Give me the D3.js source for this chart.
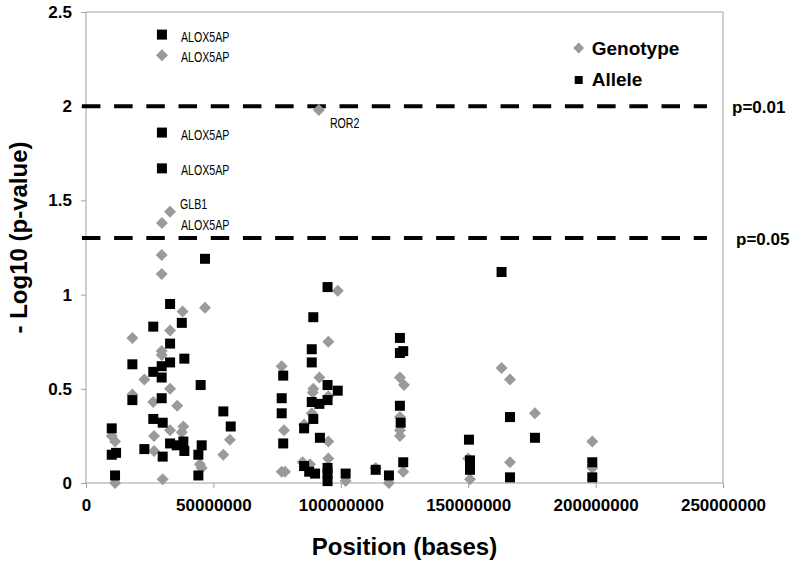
<!DOCTYPE html>
<html>
<head>
<meta charset="utf-8">
<script src="https://cdn.jsdelivr.net/npm/d3@7"></script>
<style>
  body { margin: 0; background: #fff; }
  text { font-family: 'Liberation Sans', Arial, sans-serif; }
  .gene { font-size: 14px; }
</style>
</head>
<body>
<div id="vis"></div>
<script>
// Genotype test: [position (Mb), -log10 p]
var genotype = [
  [29.8, 2.27], [91.4, 1.98], [33.0, 1.44], [29.8, 1.38],
  [29.7, 1.21], [29.7, 1.11], [37.9, 0.91], [46.7, 0.93], [18.2, 0.77], [33.0, 0.81],
  [29.7, 0.70], [29.7, 0.68], [22.9, 0.55], [33.0, 0.50], [18.2, 0.47], [26.4, 0.43],
  [35.8, 0.41], [10.1, 0.25], [11.4, 0.22], [26.7, 0.25], [33.0, 0.28], [38.2, 0.30],
  [37.6, 0.27], [26.7, 0.17], [56.5, 0.23], [53.9, 0.15], [45.4, 0.08], [30.1, 0.02],
  [11.4, 0.00], [44.7, 0.10],
  [76.8, 0.62], [98.8, 1.02], [95.1, 0.75], [91.6, 0.56], [89.2, 0.50], [89.0, 0.48],
  [95.1, 0.46], [88.6, 0.37], [77.7, 0.28], [85.6, 0.31], [95.1, 0.22], [95.1, 0.13],
  [76.8, 0.06], [78.1, 0.06], [85.0, 0.11], [87.9, 0.10], [101.9, 0.01], [113.7, 0.08],
  [118.9, 0.00], [123.2, 0.56], [124.8, 0.52], [123.2, 0.35], [123.2, 0.28], [123.2, 0.25],
  [124.5, 0.06], [150.0, 0.13], [150.7, 0.02], [163.1, 0.61], [166.4, 0.55], [176.2, 0.37],
  [166.4, 0.11], [198.7, 0.22], [198.7, 0.08]
];

// Allele test: [position (Mb), -log10 p]
var allele = [
  [29.8, 2.38], [29.8, 1.86], [29.8, 1.67],
  [46.7, 1.19], [33.0, 0.95], [37.6, 0.85], [26.4, 0.83], [33.0, 0.74], [38.6, 0.66],
  [18.2, 0.63], [33.0, 0.64], [29.7, 0.62], [26.4, 0.59], [29.7, 0.56], [45.0, 0.52],
  [29.7, 0.45], [18.2, 0.44], [26.4, 0.34], [30.1, 0.32], [53.9, 0.38], [56.8, 0.30],
  [10.1, 0.29], [22.9, 0.18], [33.0, 0.21], [35.6, 0.20], [38.2, 0.22], [38.6, 0.17],
  [30.1, 0.14], [45.4, 0.20], [44.1, 0.15], [10.1, 0.15], [11.8, 0.16], [11.4, 0.04],
  [44.1, 0.04],
  [94.8, 1.04], [89.2, 0.88], [88.6, 0.71], [88.6, 0.64], [77.4, 0.57], [94.8, 0.52],
  [98.8, 0.49], [76.8, 0.45], [88.6, 0.43], [91.6, 0.42], [94.8, 0.44], [76.8, 0.37],
  [89.2, 0.34], [85.6, 0.29], [91.8, 0.24], [77.4, 0.21], [85.6, 0.09], [87.6, 0.06],
  [89.9, 0.05], [94.8, 0.08], [94.8, 0.05], [94.8, 0.01], [101.9, 0.05], [113.7, 0.07],
  [118.9, 0.04], [123.2, 0.77], [123.2, 0.69], [124.5, 0.70], [123.2, 0.41], [123.5, 0.32],
  [124.5, 0.11], [150.3, 0.23], [150.7, 0.12], [150.7, 0.07], [163.1, 1.12], [166.4, 0.35],
  [176.2, 0.24], [166.4, 0.03], [198.7, 0.11], [198.7, 0.03]
];

// gene labels: series, index of point in that series, name
var geneLabels = [
  ['allele', 0, 'ALOX5AP'],
  ['genotype', 0, 'ALOX5AP'],
  ['genotype', 1, 'ROR2'],
  ['allele', 1, 'ALOX5AP'],
  ['allele', 2, 'ALOX5AP'],
  ['genotype', 2, 'GLB1'],
  ['genotype', 3, 'ALOX5AP']
];

var thresholds = [0.01, 0.05];
var xTicks = [0, 50000000, 100000000, 150000000, 200000000, 250000000];
var yTicks = [0, 0.5, 1, 1.5, 2, 2.5];

var width = 800;
var height = 568;
var margin = { top: 12, right: 77, bottom: 85, left: 86 };
var innerW = width - margin.left - margin.right;
var innerH = height - margin.top - margin.bottom;

var grey = '#9a9a9a';
var axisGrey = '#a0a0a0';

var x = d3.scaleLinear().domain([0, 250000000]).range([0, innerW]);
var y = d3.scaleLinear().domain([0, 2.5]).range([innerH, 0]);

var svg = d3.select('#vis').append('svg')
  .attr('width', width)
  .attr('height', height);

var g = svg.append('g')
  .attr('transform', 'translate(' + margin.left + ',' + margin.top + ')');

// frame: top and right edges
g.append('path')
  .attr('d', 'M0,0H' + innerW + 'V' + innerH)
  .attr('fill', 'none')
  .attr('stroke', axisGrey)
  .attr('stroke-width', 1);

// axes
var xAxis = g.append('g')
  .attr('transform', 'translate(0,' + innerH + ')')
  .call(d3.axisBottom(x).tickValues(xTicks).tickSize(5).tickPadding(11)
    .tickFormat(d3.format('d')));
var yAxis = g.append('g')
  .call(d3.axisLeft(y).tickValues(yTicks).tickSize(5).tickPadding(9)
    .tickFormat(function (d) { return String(d); }));

[xAxis, yAxis].forEach(function (a) {
  a.select('.domain').attr('stroke', axisGrey);
  a.selectAll('.tick line').attr('stroke', axisGrey);
  a.selectAll('.tick text')
    .attr('fill', '#000')
    .style('font-size', '17px')
    .style('font-weight', 'bold')
    .style('font-family', "'Liberation Sans', Arial, sans-serif");
});
yAxis.select('.domain').attr('d', 'M0,0V' + innerH);
xAxis.select('.domain').attr('d', 'M0,0H' + innerW);

// significance lines
var lineStart = x(-1600000);
var lineEnd = x(243700000);
thresholds.forEach(function (p, i) {
  var yy = y(-Math.log10(p));
  g.append('line')
    .attr('x1', lineStart).attr('x2', lineEnd)
    .attr('y1', yy).attr('y2', yy)
    .attr('stroke', '#000')
    .attr('stroke-width', 4)
    .attr('stroke-dasharray', '18.5,13.7');
  g.append('text')
    .attr('x', innerW + 9 + i * 4)
    .attr('y', yy + 7)
    .style('font-size', '17px')
    .style('font-weight', 'bold')
    .text('p=' + d3.format('.2f')(p));
});

// points: genotype diamonds first, allele squares drawn on top
var diamond = d3.symbol().type(d3.symbolSquare).size(72);
var square = d3.symbol().type(d3.symbolSquare).size(100);

g.append('g').selectAll('path')
  .data(genotype)
  .enter().append('path')
  .attr('d', diamond)
  .attr('transform', function (d) {
    return 'translate(' + x(d[0] * 1e6) + ',' + y(d[1]) + ') rotate(45)';
  })
  .attr('fill', grey);

g.append('g').selectAll('path')
  .data(allele)
  .enter().append('path')
  .attr('d', square)
  .attr('transform', function (d) {
    return 'translate(' + x(d[0] * 1e6) + ',' + y(d[1]) + ')';
  })
  .attr('fill', '#000');

// gene labels next to the top points (narrowed like Arial Narrow)
var series = { genotype: genotype, allele: allele };
var labelOffset = { ROR2: [11, 18], GLB1: [10, -3] };
geneLabels.forEach(function (l) {
  var d = series[l[0]][l[1]];
  var off = labelOffset[l[2]] || [19, 7];
  g.append('text')
    .attr('class', 'gene')
    .attr('transform', 'translate(' + (x(d[0] * 1e6) + off[0]) + ',' + (y(d[1]) + off[1]) + ') scale(0.76,1)')
    .text(l[2]);
});

// legend
var legend = g.append('g').attr('transform', 'translate(' + (578.7 - margin.left) + ',' + (48 - margin.top) + ')');
legend.append('path')
  .attr('transform', 'rotate(45)')
  .attr('d', d3.symbol().type(d3.symbolSquare).size(58))
  .attr('fill', grey);
legend.append('text')
  .attr('x', 13).attr('y', 7)
  .style('font-size', '19px').style('font-weight', 'bold')
  .text('Genotype');
legend.append('path')
  .attr('transform', 'translate(0,32)')
  .attr('d', d3.symbol().type(d3.symbolSquare).size(64))
  .attr('fill', '#000');
legend.append('text')
  .attr('x', 13).attr('y', 38)
  .style('font-size', '19px').style('font-weight', 'bold')
  .text('Allele');

// axis titles
svg.append('text')
  .attr('x', margin.left + innerW / 2)
  .attr('y', 555)
  .attr('text-anchor', 'middle')
  .style('font-size', '24px').style('font-weight', 'bold')
  .text('Position (bases)');

svg.append('text')
  .attr('transform', 'translate(27,' + (margin.top + innerH / 2 - 10) + ') rotate(-90)')
  .attr('text-anchor', 'middle')
  .style('font-size', '24px').style('font-weight', 'bold')
  .text('- Log10 (p-value)');
</script>
</body>
</html>
